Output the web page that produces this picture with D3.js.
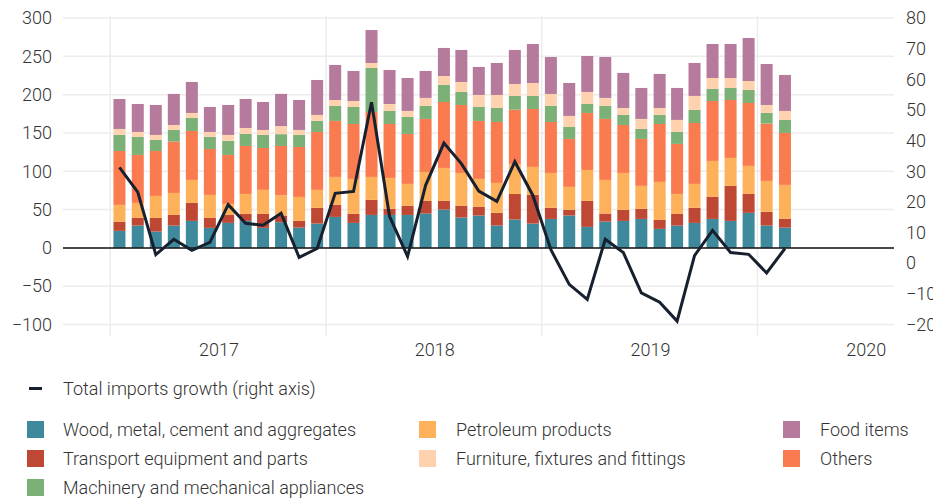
<!DOCTYPE html>
<html>
<head>
<meta charset="utf-8">
<script src="https://cdn.jsdelivr.net/npm/d3@7"></script>
<style>
  body { margin: 0; background: #fff; }
  svg text { font-family: Roboto, "Noto Sans", sans-serif; font-weight: 300; fill: #333; }
</style>
</head>
<body>
<div id="chart"></div>
<script>
// months Jul 2016 - Aug 2019
const months = [
  "2016-07","2016-08","2016-09","2016-10","2016-11","2016-12",
  "2017-01","2017-02","2017-03","2017-04","2017-05","2017-06",
  "2017-07","2017-08","2017-09","2017-10","2017-11","2017-12",
  "2018-01","2018-02","2018-03","2018-04","2018-05","2018-06",
  "2018-07","2018-08","2018-09","2018-10","2018-11","2018-12",
  "2019-01","2019-02","2019-03","2019-04","2019-05","2019-06",
  "2019-07","2019-08"
];

const wood = [22.2,29.1,21.3,29.1,35.2,26.1, 32.6,35.2,26.1,33.5,26.5,31.7, 40.4,32.6,43.0,43.0,43.0,44.8,
  50.0,39.6,42.2,29.1,37.0,31.7, 37.8,42.2,27.4,34.3,35.2,37.8, 24.8,29.1,32.6,37.8,35.2,45.7, 29.1,26.5];
const transport = [11.7,10.0,17.8,13.9,23.5,13.0, 10.4,9.1,18.2,8.7,8.7,20.5, 15.7,11.7,19.6,7.9,11.8,16.5,
  11.3,15.2,11.3,16.6,33.4,37.4, 14.4,7.4,33.9,10.5,14.4,13.1, 11.7,15.2,19.6,28.7,45.7,24.7, 17.9,11.3];
const petroleum = [22.2,19.6,28.7,28.7,30.0,30.0, 14.4,26.1,31.4,26.4,31.3,23.5, 36.5,45.7,30.0,40.4,28.7,37.8,
  43.0,43.0,36.5,39.1,39.2,36.6, 45.6,30.0,40.4,43.9,48.2,30.0, 49.6,26.1,31.3,47.0,36.5,36.6, 40.4,44.4];
const others = [70.4,62.6,58.7,67.0,63.9,60.0, 63.9,62.6,54.7,64.4,65.2,75.6, 73.1,71.7,84.8,70.4,65.2,69.2,
  86.1,88.7,75.7,79.5,70.8,75.6, 66.5,62.6,74.4,79.6,62.6,61.3, 75.6,65.3,79.5,78.2,75.6,82.1, 74.8,67.8];
const machinery = [20.9,23.5,14.4,15.2,17.0,15.7, 18.3,15.7,17.0,15.4,15.7,14.4, 19.5,22.2,57.4,17.0,22.2,16.9,
  22.2,17.0,18.2,18.3,17.9,17.0, 20.9,15.6,11.7,16.9,13.1,13.0, 11.8,15.6,17.0,15.7,15.7,17.0, 13.9,17.0];
const furniture = [7.8,6.5,6.5,6.5,6.5,6.5, 7.8,7.8,6.5,10.6,6.5,7.8, 7.8,7.8,6.5,9.1,7.8,10.5,
  11.7,13.0,15.7,17.0,15.6,16.9, 15.7,14.4,15.7,10.5,9.1,13.1, 9.1,15.7,18.3,14.3,13.0,11.7, 10.4,11.7];
const food = [39.1,36.5,39.1,40.5,40.4,32.6, 39.1,37.8,36.5,42.0,39.1,45.6, 45.7,39.2,43.0,44.4,43.0,35.2,
  36.6,41.8,36.5,41.7,44.4,50.9, 48.2,43.0,46.9,53.4,45.7,40.4, 44.4,41.7,43.0,44.4,44.4,56.1, 53.5,47.0];

// total imports growth, % (right axis)
const growth = [31.3,23.2,2.8,7.8,4.2,6.8, 19.1,13.0,12.4,16.3,1.9,4.8, 22.8,23.4,52.5,15.3,2.2,25.4,
  39.2,32.5,23.5,20.2,33.1,22.1, 4.4,-6.9,-11.8,7.8,3.5,-9.7, -12.7,-18.9,2.5,10.7,3.5,2.9, -3.2,4.8];

const leftTicks = [-100,-50,0,50,100,150,200,250,300];
const rightTicks = [-20,-10,0,10,20,30,40,50,60,70,80];
const yearLabels = [2017, 2018, 2019, 2020];

const series = [
  { key: "wood", name: "Wood, metal, cement and aggregates", color: "#3e899c", values: wood },
  { key: "transport", name: "Transport equipment and parts", color: "#bf4834", values: transport },
  { key: "petroleum", name: "Petroleum products", color: "#fdb15a", values: petroleum },
  { key: "others", name: "Others", color: "#fa7b4f", values: others },
  { key: "machinery", name: "Machinery and mechanical appliances", color: "#7bb077", values: machinery },
  { key: "furniture", name: "Furniture, fixtures and fittings", color: "#fed2ae", values: furniture },
  { key: "food", name: "Food items", color: "#b57a9c", values: food }
];

const W = 933, H = 498;
const margin = { top: 18, left: 63, right: 39 };
const plotW = W - margin.left - margin.right;
const plotBottom = 324.5;

const parse = d3.timeParse("%Y-%m");
const rows = months.map((m, i) => {
  const r = { date: parse(m) };
  series.forEach(s => r[s.key] = s.values[i]);
  r.growth = growth[i];
  return r;
});

const svg = d3.select("#chart").append("svg").attr("width", W).attr("height", H);

const x = d3.scaleTime()
  .domain([new Date(2016, 3, 12), new Date(2020, 1, 17)])
  .range([margin.left, margin.left + plotW]);
const y = d3.scaleLinear().domain([-100, 300]).range([plotBottom, margin.top]);
const y2 = d3.scaleLinear().domain([-20, 80]).range([plotBottom, margin.top]);

const mid = d => new Date((d.getTime() + d3.timeMonth.offset(d, 1).getTime()) / 2);
const barW = 12;

// horizontal grid
svg.append("g")
  .selectAll("line")
  .data(leftTicks)
  .enter()
  .append("line")
  .attr("x1", margin.left)
  .attr("x2", margin.left + plotW)
  .attr("y1", d => y(d))
  .attr("y2", d => y(d))
  .style("stroke", "#ececec")
  .style("stroke-width", 1.5);

// vertical grid at mid-year
svg.append("g")
  .selectAll("line")
  .data(yearLabels.map(yr => new Date(yr - 1, 6, 1)))
  .enter()
  .append("line")
  .attr("x1", d => x(d))
  .attr("x2", d => x(d))
  .attr("y1", margin.top - 2)
  .attr("y2", plotBottom + 11)
  .style("stroke", "#ececec")
  .style("stroke-width", 1.5);

// left axis
svg.append("g")
  .attr("transform", `translate(${margin.left},0)`)
  .call(d3.axisLeft(y).tickValues(leftTicks).tickSize(0).tickPadding(11))
  .call(g => g.select(".domain").remove())
  .selectAll("text")
  .style("font-size", "18px");

// right axis
svg.append("g")
  .attr("transform", `translate(${margin.left + plotW},0)`)
  .call(d3.axisRight(y2).tickValues(rightTicks).tickSize(0).tickPadding(12))
  .call(g => g.select(".domain").remove())
  .selectAll("text")
  .style("font-size", "18px");

// year labels
svg.append("g")
  .selectAll("text")
  .data(yearLabels)
  .enter()
  .append("text")
  .attr("x", d => x(new Date(d, 0, 1)))
  .attr("y", 356)
  .attr("text-anchor", "middle")
  .style("font-size", "18px")
  .text(d => d);

// stacked bars
const stacked = d3.stack().keys(series.map(s => s.key))(rows);
svg.append("g")
  .selectAll("g")
  .data(stacked)
  .enter()
  .append("g")
  .style("fill", (d, i) => series[i].color)
  .selectAll("rect")
  .data(d => d)
  .enter()
  .append("rect")
  .attr("x", d => x(mid(d.data.date)) - barW / 2)
  .attr("y", d => y(d[1]))
  .attr("width", barW)
  .attr("height", d => y(d[0]) - y(d[1]));

// zero line
svg.append("line")
  .attr("x1", margin.left)
  .attr("x2", margin.left + plotW)
  .attr("y1", y(0))
  .attr("y2", y(0))
  .style("stroke", "#111")
  .style("stroke-width", 1.5);

// growth line
const line = d3.line()
  .x(d => x(mid(d.date)))
  .y(d => y2(d.growth));
svg.append("path")
  .datum(rows)
  .attr("d", line)
  .style("fill", "none")
  .style("stroke", "#17202e")
  .style("stroke-width", 3);

// legend
const legend = svg.append("g");
legend.append("line")
  .attr("x1", 29).attr("x2", 42)
  .attr("y1", 388.5).attr("y2", 388.5)
  .style("stroke", "#17202e")
  .style("stroke-width", 3);
legend.append("text")
  .attr("x", 63).attr("y", 388.5)
  .attr("dy", "0.35em")
  .style("font-size", "18px")
  .text("Total imports growth (right axis)");

const legendItems = [
  { key: "wood", col: 0, row: 0 },
  { key: "transport", col: 0, row: 1 },
  { key: "machinery", col: 0, row: 2 },
  { key: "petroleum", col: 1, row: 0 },
  { key: "furniture", col: 1, row: 1 },
  { key: "food", col: 2, row: 0 },
  { key: "others", col: 2, row: 1 }
];
const colX = [27, 419, 783];
const textOff = [36, 37, 37];
const items = legend.selectAll(".item")
  .data(legendItems)
  .enter()
  .append("g")
  .attr("class", "item")
  .attr("transform", d => `translate(${colX[d.col]}, ${429.5 + d.row * 29})`);
items.append("rect")
  .attr("x", 0).attr("y", -8.5)
  .attr("width", 17).attr("height", 17)
  .style("fill", d => series.find(s => s.key === d.key).color);
items.append("text")
  .attr("x", d => textOff[d.col]).attr("y", 0)
  .attr("dy", "0.35em")
  .style("font-size", "18px")
  .text(d => series.find(s => s.key === d.key).name);
</script>
</body>
</html>
